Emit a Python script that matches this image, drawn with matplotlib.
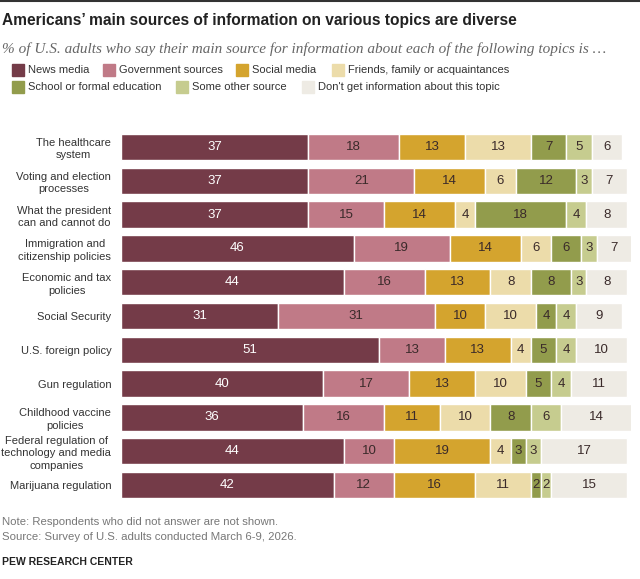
import matplotlib.pyplot as plt
import numpy as np

plt.rcParams['font.family'] = ['Liberation Sans', 'DejaVu Sans']

topics = ["The healthcare\nsystem", "Voting and election\nprocesses", "What the president\ncan and cannot do",
          "Immigration and\ncitizenship policies", "Economic and tax\npolicies", "Social Security",
          "U.S. foreign policy", "Gun regulation", "Childhood vaccine\npolicies",
          "Federal regulation of\ntechnology and media\ncompanies", "Marijuana regulation"]
news = [37, 37, 37, 46, 44, 31, 51, 40, 36, 44, 42]
gov = [18, 21, 15, 19, 16, 31, 13, 17, 16, 10, 12]
social = [13, 14, 14, 14, 13, 10, 13, 13, 11, 19, 16]
friends = [13, 6, 4, 6, 8, 10, 4, 10, 10, 4, 11]
school = [7, 12, 18, 6, 8, 4, 5, 5, 8, 3, 2]
other = [5, 3, 4, 3, 3, 4, 4, 4, 6, 3, 2]
none = [6, 7, 8, 7, 8, 9, 10, 11, 14, 17, 15]

series = [("News media", news, "#743b48", "white"),
          ("Government sources", gov, "#c07a87", "#3a2a2a"),
          ("Social media", social, "#d4a42e", "#3a2a2a"),
          ("Friends, family or acquaintances", friends, "#ecdcaa", "#3a2a2a"),
          ("School or formal education", school, "#929c4c", "#3a2a2a"),
          ("Some other source", other, "#c6cc8f", "#3a2a2a"),
          ("Don't get information about this topic", none, "#eeebe4", "#3a2a2a")]

fig = plt.figure(figsize=(6.4, 5.79), dpi=100)
ax = fig.add_axes([121 / 640, 1 - 502 / 579, 510 / 640, 372 / 579])
y = np.arange(len(topics))
left = np.zeros(len(topics))
for name, vals, col, tc in series:
    vals = np.array(vals, float)
    ax.barh(y, vals, left=left, height=0.78, color=col, edgecolor="white", linewidth=1)
    for yi, l, v in zip(y, left, vals):
        ax.text(l + v / 2, yi, str(int(v)), ha="center", va="center", fontsize=9.5, color=tc)
    left += vals
ax.set_xlim(0, 100.8)
ax.set_ylim(len(topics) - 0.5, -0.5)
ax.set_yticks(y)
ax.set_yticklabels(topics, fontsize=8, color="#333333", linespacing=1.3, multialignment="center")
ax.tick_params(length=0, pad=7)
ax.set_xticks([])
for s in ax.spines.values():
    s.set_visible(False)

fig.add_artist(plt.Line2D([0, 1], [0.999, 0.999], color="#333333", lw=1.5))
fig.text(0.003, 1 - 20 / 579, "Americans\u2019 main sources of information on various topics are diverse",
         fontsize=11.2, fontweight="bold", va="center", color="#222222")
fig.text(0.003, 1 - 49 / 579, "% of U.S. adults who say their main source for information about each of the following topics is \u2026",
         fontsize=11, style="italic", family="Liberation Serif", va="center", color="#666666")
leg = [(12, 70), (103, 70), (236, 70), (332, 70), (12, 87), (176, 87), (302, 87)]
for (name, _, col, _), (lx, ly) in zip(series, leg):
    fig.patches.append(plt.Rectangle((lx / 640, 1 - (ly + 6) / 579), 12 / 640, 12 / 579,
                                     color=col, transform=fig.transFigure))
    fig.text((lx + 16) / 640, 1 - ly / 579, name, fontsize=8, va="center", color="#333333")
fig.text(0.003, 1 - 522 / 579, "Note: Respondents who did not answer are not shown.", fontsize=8.2, color="#777777", va="center")
fig.text(0.003, 1 - 537 / 579, "Source: Survey of U.S. adults conducted March 6-9, 2026.", fontsize=8.2, color="#777777", va="center")
fig.text(0.003, 1 - 562 / 579, "PEW RESEARCH CENTER", fontsize=7.5, fontweight="bold", color="#222222", va="center")
fig.savefig("out.png", dpi=100)
